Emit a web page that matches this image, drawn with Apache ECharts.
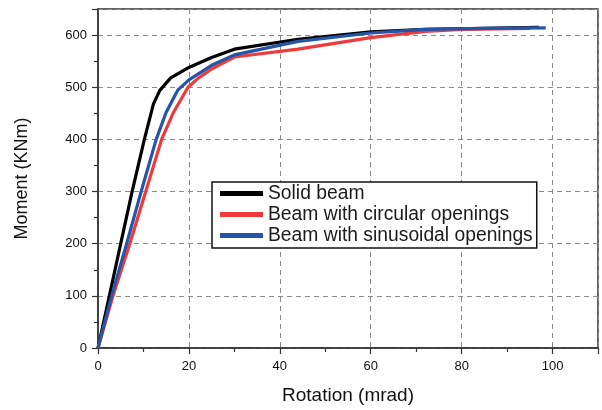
<!DOCTYPE html>
<html><head><meta charset="utf-8">
<script src="https://cdn.jsdelivr.net/npm/echarts@6/dist/echarts.min.js"></script>
<style>html,body{margin:0;padding:0;background:#fff}#c{width:602px;height:410px}</style>
</head><body><div id="c"></div>
<script>
var seriesNames = ['Solid beam', 'Beam with circular openings', 'Beam with sinusoidal openings'];
var solidBeam = [[0,0],[2.5,100],[5,200],[7.5,300],[10.2,400],[12.2,468],[13.6,494],[16,518],[20,538],[25,557],[30,573],[44,592],[60,606],[72,611],[85,613],[97,615]];
var circularBeam = [[0,0],[3.3,100],[7,200],[10.5,300],[14,400],[16.5,450],[19.8,500],[22,517],[25,535],[30,558],[44,573],[60,595],[72,607],[80,611],[95,613]];
var sinusoidalBeam = [[0,0],[3,100],[6.3,200],[9.5,300],[12.8,400],[15,452],[17.6,495],[20,514],[25,542],[30,562],[44,588],[60,604],[72,611],[85,613],[98.5,614]];
var colors = ['#000000', '#f03a3a', '#2455a8'];

var font = 'Liberation Sans, Arial, sans-serif';
var chart = echarts.init(document.getElementById('c'));
var axisCommon = {
  axisLine: {show: true, lineStyle: {color: '#333', width: 1.5}},
  axisTick: {show: true, inside: false, length: 6, lineStyle: {color: '#333', width: 1.2}},
  minorTick: {show: true, splitNumber: 2, length: 4, lineStyle: {color: '#333', width: 1.2}},
  splitLine: {show: true, lineStyle: {color: '#8a8a8a', type: [5, 4], width: 1}},
  nameTextStyle: {fontFamily: font, color: '#111'}
};
chart.setOption({
  animation: false,
  grid: {left: 98, right: 4, top: 9, bottom: 56, show: true, borderColor: '#333', borderWidth: 1.5, backgroundColor: 'transparent'},
  legend: {
    orient: 'vertical', left: 212, top: 182, data: seriesNames,
    icon: 'rect',
    backgroundColor: '#fff', borderColor: '#111', borderWidth: 1.5, borderRadius: 0,
    padding: [1, 4, 2, 8], itemGap: 0, itemWidth: 43, itemHeight: 5,
    textStyle: {fontFamily: font, fontSize: 19.3, lineHeight: 21, color: '#1a1a1a'}
  },
  xAxis: Object.assign({}, axisCommon, {
    type: 'value', min: 0, max: 110, interval: 20,
    name: 'Rotation (mrad)', nameLocation: 'middle', nameGap: 38,
    nameTextStyle: {fontFamily: font, fontSize: 19, color: '#111'},
    axisLabel: {fontFamily: font, fontSize: 13, color: '#111', margin: 12,
      formatter: function (v) { return v > 100 ? '' : v; }}
  }),
  yAxis: Object.assign({}, axisCommon, {
    type: 'value', min: 0, max: 650, interval: 100,
    name: 'Moment (KNm)', nameLocation: 'middle', nameGap: 67,
    nameTextStyle: {fontFamily: font, fontSize: 18, color: '#111'},
    axisLabel: {fontFamily: font, fontSize: 13, color: '#111', margin: 11,
      formatter: function (v) { return v > 600 ? '' : v; }}
  }),
  series: [
    {name: seriesNames[0], type: 'line', data: solidBeam, symbol: 'none', color: colors[0], lineStyle: {width: 3.2}, z: 2},
    {name: seriesNames[1], type: 'line', data: circularBeam, symbol: 'none', color: colors[1], lineStyle: {width: 3.2}, z: 3},
    {name: seriesNames[2], type: 'line', data: sinusoidalBeam, symbol: 'none', color: colors[2], lineStyle: {width: 3.2}, z: 4}
  ]
});
</script></body></html>
